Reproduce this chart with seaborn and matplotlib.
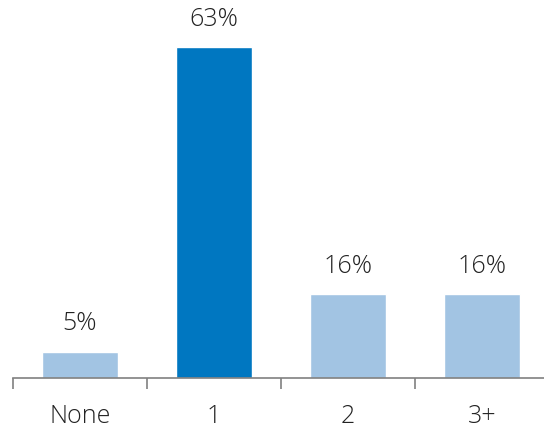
import numpy as np
import pandas as pd
import matplotlib.pyplot as plt
import seaborn as sns

categories = ['None', '1', '2', '3+']
values = [5, 63, 16, 16]
labels = ['5%', '63%', '16%', '16%']
colors = ['#a2c4e3', '#0077c1', '#a2c4e3', '#a2c4e3']

sns.set_style('white')
plt.rcParams['font.family'] = ['Open Sans', 'DejaVu Sans']

df = pd.DataFrame({'cat': categories, 'val': values})

fig = plt.figure(figsize=(5.44, 4.29), dpi=100)
ax = fig.add_axes([13 / 544, 51 / 429, 536 / 544, 378 / 429])

sns.barplot(data=df, x='cat', y='val', hue='cat', palette=colors,
            width=0.565, saturation=1, legend=False, ax=ax)

for i, (v, lab) in enumerate(zip(values, labels)):
    ax.annotate(lab, (i, v), xytext=(0, 11), textcoords='offset points',
                ha='center', va='bottom', fontsize=18, fontweight='light',
                color='#222222')

ax.set_xlim(-0.5, 3.5)
ax.set_ylim(0, 72)
ax.set_yticks([])
ax.set_xlabel('')
ax.set_ylabel('')

ax.set_xticks(np.arange(-0.5, 4, 1))
ax.set_xticklabels([])
ax.set_xticks(range(len(categories)), minor=True)
ax.set_xticklabels(categories, minor=True, fontweight='light')
ax.tick_params(axis='x', which='major', bottom=True, length=8, width=1.2,
               color='#808080', direction='out')
ax.tick_params(axis='x', which='minor', bottom=True, length=0, pad=19,
               labelsize=18, labelcolor='#222222')

for s in ['top', 'right', 'left']:
    ax.spines[s].set_visible(False)
ax.spines['bottom'].set_color('#808080')
ax.spines['bottom'].set_linewidth(1.2)

fig.savefig('out.png', dpi=100)
